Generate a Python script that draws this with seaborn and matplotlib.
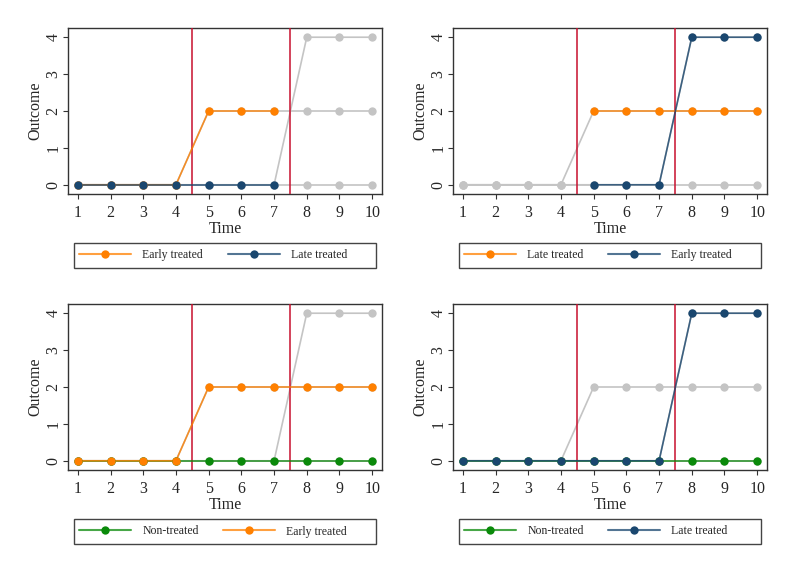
import numpy as np
import pandas as pd
import matplotlib
matplotlib.use('Agg')
import matplotlib.pyplot as plt
from matplotlib.lines import Line2D
from matplotlib.patches import Rectangle
import seaborn as sns

# Data: outcome by time for the three groups
time = [1, 2, 3, 4, 5, 6, 7, 8, 9, 10]
early_treated = [0, 0, 0, 0, 2, 2, 2, 2, 2, 2]
late_treated = [0, 0, 0, 0, 0, 0, 0, 4, 4, 4]
non_treated = [0, 0, 0, 0, 0, 0, 0, 0, 0, 0]
cutoffs = [4.5, 7.5]

ORANGE = '#ff8000'
NAVY = '#1a476f'
GREEN = '#0a8a0a'
GREY = '#c4c4c4'
RED = '#c8102e'

sns.set_theme(style='white')
plt.rcParams['font.family'] = ['Liberation Serif', 'DejaVu Serif']

W, H = 795, 578
fig = plt.figure(figsize=(W / 100, H / 100), dpi=100)

# panel spec: (left px, top px, highlighted series)
# each highlighted series: (values, time window start, end, colour, label)
panels = [
    (68, 28, [(early_treated, 1, 7, ORANGE, 'Early treated'),
              (late_treated, 1, 7, NAVY, 'Late treated')]),
    (453, 28, [(early_treated, 5, 10, ORANGE, 'Late treated'),
               (late_treated, 5, 10, NAVY, 'Early treated')]),
    (68, 304, [(non_treated, 1, 10, GREEN, 'Non-treated'),
               (early_treated, 1, 10, ORANGE, 'Early treated')]),
    (453, 304, [(non_treated, 1, 10, GREEN, 'Non-treated'),
                (late_treated, 1, 10, NAVY, 'Late treated')]),
]

ax_w, ax_h = 314, 166

for left, top, series in panels:
    ax = fig.add_axes([left / W, (H - top - ax_h) / H, ax_w / W, ax_h / H])

    # background: all groups in grey
    for vals in [non_treated, late_treated, early_treated]:
        df = pd.DataFrame({'Time': time, 'Outcome': vals})
        sns.lineplot(data=df, x='Time', y='Outcome', color=GREY, lw=1.2, ax=ax)
        sns.scatterplot(data=df, x='Time', y='Outcome', color=GREY, s=36,
                        linewidth=0, ax=ax, zorder=3)

    for xc in cutoffs:
        ax.axvline(xc, color=RED, lw=1.1, zorder=4)

    handles = []
    for vals, t0, t1, col, lab in series:
        df = pd.DataFrame({'Time': time, 'Outcome': vals})
        df = df[(df['Time'] >= t0) & (df['Time'] <= t1)]
        sns.lineplot(data=df, x='Time', y='Outcome', color=col, lw=1.2,
                     alpha=0.8, ax=ax, zorder=5)
        sns.scatterplot(data=df, x='Time', y='Outcome', color=col, s=36,
                        linewidth=0, ax=ax, zorder=6)
        rgba = matplotlib.colors.to_rgba(col, 0.75)
        handles.append(Line2D([0], [0], color=rgba, lw=1.5, marker='o',
                              markersize=6, markerfacecolor=col,
                              markeredgewidth=0, label=lab))

    ax.set_xlim(0.7, 10.3)
    ax.set_ylim(-0.25, 4.25)
    ax.set_xticks(time)
    ax.set_yticks([0, 1, 2, 3, 4])
    ax.tick_params(axis='both', which='both', direction='out', length=3.8,
                   width=0.8, color='#333333', labelsize=11.5,
                   bottom=True, left=True)
    ax.tick_params(axis='x', pad=4)
    ax.tick_params(axis='y', pad=1)
    for lbl in ax.get_yticklabels():
        lbl.set_rotation(90)
        lbl.set_va('center')
    ax.set_xlabel('Time', fontsize=11.5, labelpad=0)
    ax.set_ylabel('Outcome', fontsize=11.5)
    ax.yaxis.set_label_coords(-0.08, 0.5)
    for sp in ax.spines.values():
        sp.set_color('#333333')
        sp.set_linewidth(1.0)
    if ax.get_legend() is not None:
        ax.get_legend().remove()

    # legend box below the panel
    lx0, ly0 = left + 6, top + 215
    lw_, lh_ = 302, 25
    fig.patches.append(Rectangle((lx0 / W, (H - ly0 - lh_) / H), lw_ / W, lh_ / H,
                                 transform=fig.transFigure, fill=False,
                                 edgecolor='#444444', lw=1.0))
    fig.legend(handles=handles, loc='center left', ncol=2, frameon=False,
               bbox_to_anchor=((lx0 + 5) / W, (H - ly0 - lh_ / 2) / H),
               fontsize=8.5, handlelength=4.4, handletextpad=0.95,
               columnspacing=2.1, borderpad=0, borderaxespad=0)

fig.savefig('out.png', dpi=100)
